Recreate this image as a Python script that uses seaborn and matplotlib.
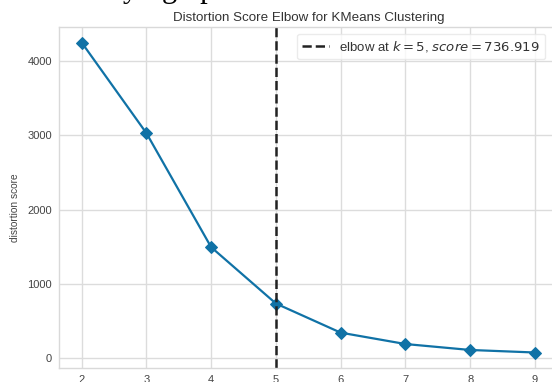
import matplotlib
matplotlib.use("Agg")
import matplotlib.pyplot as plt
import seaborn as sns
import pandas as pd

# ---- data ----
k_values = [2, 3, 4, 5, 6, 7, 8, 9]
distortion = [4250, 3030, 1495, 736.919, 345, 192, 112, 78]
elbow_k = 5
elbow_score = 736.919
x_ticks = [2, 3, 4, 5, 6, 7, 8, 9]
y_ticks = [0, 1000, 2000, 3000, 4000]
title = "Distortion Score Elbow for KMeans Clustering"
y_label = "distortion score"
top_fragment = "ying up"

df = pd.DataFrame({"k": k_values, "distortion": distortion})

sns.set_theme(style="whitegrid")
plt.rcParams["font.family"] = ["Liberation Sans", "DejaVu Sans"]
plt.rcParams["axes.edgecolor"] = "#d9d9d9"
plt.rcParams["grid.color"] = "#dcdcdc"

fig = plt.figure(figsize=(5.52, 3.82), dpi=100)
W, H = 552, 382
ax = fig.add_axes([59 / W, 1 - 368 / H, (557.6 - 59) / W, (368 - 27) / H])

line_color = "#1072a6"
sns.lineplot(data=df, x="k", y="distortion", ax=ax, color=line_color,
             marker="D", markersize=6, markeredgecolor=line_color,
             linewidth=1.6)

ax.axvline(elbow_k, color="#222222", linestyle="--", linewidth=1.8,
           label=f"elbow at $k = {elbow_k}$, $score = {elbow_score:.3f}$")

ax.set_xticks(x_ticks)
ax.set_yticks(y_ticks)
ax.tick_params(axis="both", length=0, pad=5, labelsize=8, labelcolor="#444444")
ax.set_xlabel("")
ax.set_ylabel(y_label, fontsize=7.3, color="#444444", labelpad=5)
ax.yaxis.set_label_coords(-0.078, 0.47)
ax.set_title(title, fontsize=9.6, color="#333333", pad=4)
for s in ax.spines.values():
    s.set_linewidth(1.0)
    s.set_color("#d9d9d9")
ax.grid(True, linewidth=1.0, color="#dcdcdc")

leg = ax.legend(loc="upper right", bbox_to_anchor=((552 - 59) / (557.6 - 59), 1.0),
                fontsize=9.5, frameon=True, fancybox=True, borderaxespad=0.5,
                handlelength=2.0)
leg.get_frame().set_edgecolor("#e6e6e6")
leg.get_frame().set_facecolor("white")
for t in leg.get_texts():
    t.set_color("#333333")

fig.text(123 / W, 1 + 2.5 / H, top_fragment, ha="left", va="baseline",
         fontsize=22, family=["Liberation Serif", "DejaVu Serif"], color="black")

fig.savefig("out.png", dpi=100)
